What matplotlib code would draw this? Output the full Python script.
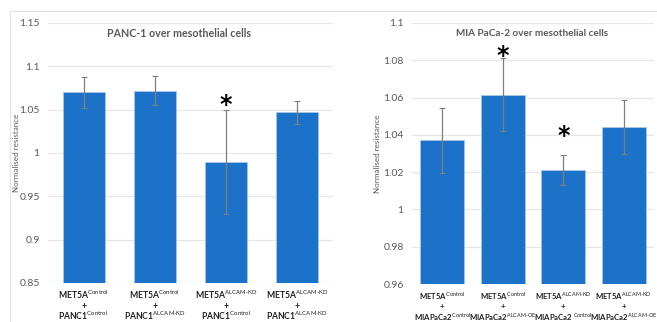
import matplotlib.pyplot as plt
from matplotlib.patches import Rectangle
from matplotlib.transforms import blended_transform_factory

plt.rcParams['font.family'] = ['Lato', 'DejaVu Sans']
plt.rcParams['mathtext.fontset'] = 'custom'
plt.rcParams['mathtext.rm'] = 'Lato'

# Data - PANC-1 panel
panc_top = ["MET5A", "MET5A", "MET5A", "MET5A"]
panc_top_sup = ["Control", "Control", "ALCAM-KD", "ALCAM-KD"]
panc_bot = ["PANC1", "PANC1", "PANC1", "PANC1"]
panc_bot_sup = ["Control", "ALCAM-KD", "Control", "ALCAM-KD"]
panc_values = [1.070, 1.072, 0.990, 1.047]
panc_err = [0.018, 0.017, 0.060, 0.013]
panc_star_idx = [2]
panc_star_y = [1.055]

# Data - MIA PaCa-2 panel
mia_top = ["MET5A", "MET5A", "MET5A", "MET5A"]
mia_top_sup = ["Control", "Control", "ALCAM-KD", "ALCAM-KD"]
mia_bot = ["MIAPaCa2", "MIAPaCa2", "MIAPaCa2 ", "MIAPaCa2"]
mia_bot_sup = ["Control", "ALCAM-OE", "Control", "ALCAM-OE"]
mia_values = [1.037, 1.0615, 1.021, 1.044]
mia_err = [0.0175, 0.0195, 0.008, 0.0145]
mia_star_idx = [1, 2]
mia_star_y = [1.0825, 1.0395]

blue = "#1b72c8"
grey = "#595959"

fig = plt.figure(figsize=(6.57, 3.22), dpi=100)

# light frame round the charts
fig.patches.append(Rectangle((10/657, -0.05), 1.0, 1 - 11/322 + 0.05,
                             transform=fig.transFigure, fill=False,
                             edgecolor="#e3e3e3", lw=0.8))


def sup(s):
    return "$^{\\mathrm{" + s.replace("-", "\\text{-}").replace(" ", "\\ ") + "}}$"


def panel(ax, top, top_sup, bot, bot_sup, values, err, star_idx, star_y,
          width, ylim, ticks, title, title_x, title_size, label_px, lab_size):
    x = list(range(len(values)))
    ax.bar(x, values, width=width, color=blue, edgecolor="#a9c8ea", linewidth=0.5,
           zorder=2)
    ax.errorbar(x, values, yerr=err, fmt="none", ecolor="#7f7f7f", elinewidth=0.9,
                capsize=2, capthick=0.8, zorder=3)
    for i, y in zip(star_idx, star_y):
        ax.text(i, y, "*", ha="center", va="center", fontsize=17,
                fontweight="bold", color="black", family="DejaVu Sans")
    ax.set_ylim(*ylim)
    ax.set_xlim(-0.5, len(values) - 0.5)
    ax.set_yticks(ticks)
    ax.set_yticklabels([f"{t:g}" for t in ticks], color=grey, fontsize=7.5)
    ax.set_xticks(x)
    ax.set_xticklabels([])
    ax.tick_params(length=0, pad=6)
    ax.grid(axis="y", color="#e6e6e6", lw=0.9, zorder=0)
    ax.set_axisbelow(True)
    for s in ax.spines.values():
        s.set_visible(False)
    ax.text(title_x, 0.96, title, transform=ax.transAxes, ha="center", va="center",
            fontsize=title_size, color=grey, fontweight="bold")
    ax.set_ylabel("Normalised resistance", fontsize=5.8, color=grey)

    tr = blended_transform_factory(ax.transData, fig.transFigure)
    y1, y2, y3 = [1 - p/322 for p in label_px]
    for i in x:
        ax.text(i, y1, top[i] + sup(top_sup[i]), transform=tr, ha="center",
                va="center", fontsize=lab_size, fontweight="bold", color="#222222")
        ax.text(i, y2, "+", transform=tr, ha="center", va="center",
                fontsize=lab_size, fontweight="bold", color="#222222")
        ax.text(i, y3, bot[i] + sup(bot_sup[i]), transform=tr, ha="center",
                va="center", fontsize=lab_size, fontweight="bold", color="#222222")


ax1 = fig.add_axes([48/657, 39/322, 285/657, 260/322])
panel(ax1, panc_top, panc_top_sup, panc_bot, panc_bot_sup, panc_values, panc_err,
      panc_star_idx, panc_star_y, 0.59, (0.85, 1.15),
      [0.85, 0.9, 0.95, 1, 1.05, 1.1, 1.15], "PANC-1 over mesothelial cells",
      0.46, 7.7, (295, 306, 316), 6.2)
ax1.yaxis.set_label_coords(-0.098, 0.5)

ax2 = fig.add_axes([412/657, 38/322, 242/657, 261/322])
panel(ax2, mia_top, mia_top_sup, mia_bot, mia_bot_sup, mia_values, mia_err,
      mia_star_idx, mia_star_y, 0.73, (0.96, 1.1),
      [0.96, 0.98, 1, 1.02, 1.04, 1.06, 1.08, 1.1],
      "MIA PaCa-2 over mesothelial cells", 0.495, 7.2, (296, 307, 317), 5.6)
ax2.yaxis.set_label_coords(-0.128, 0.5)

fig.savefig("out.png", dpi=100)
